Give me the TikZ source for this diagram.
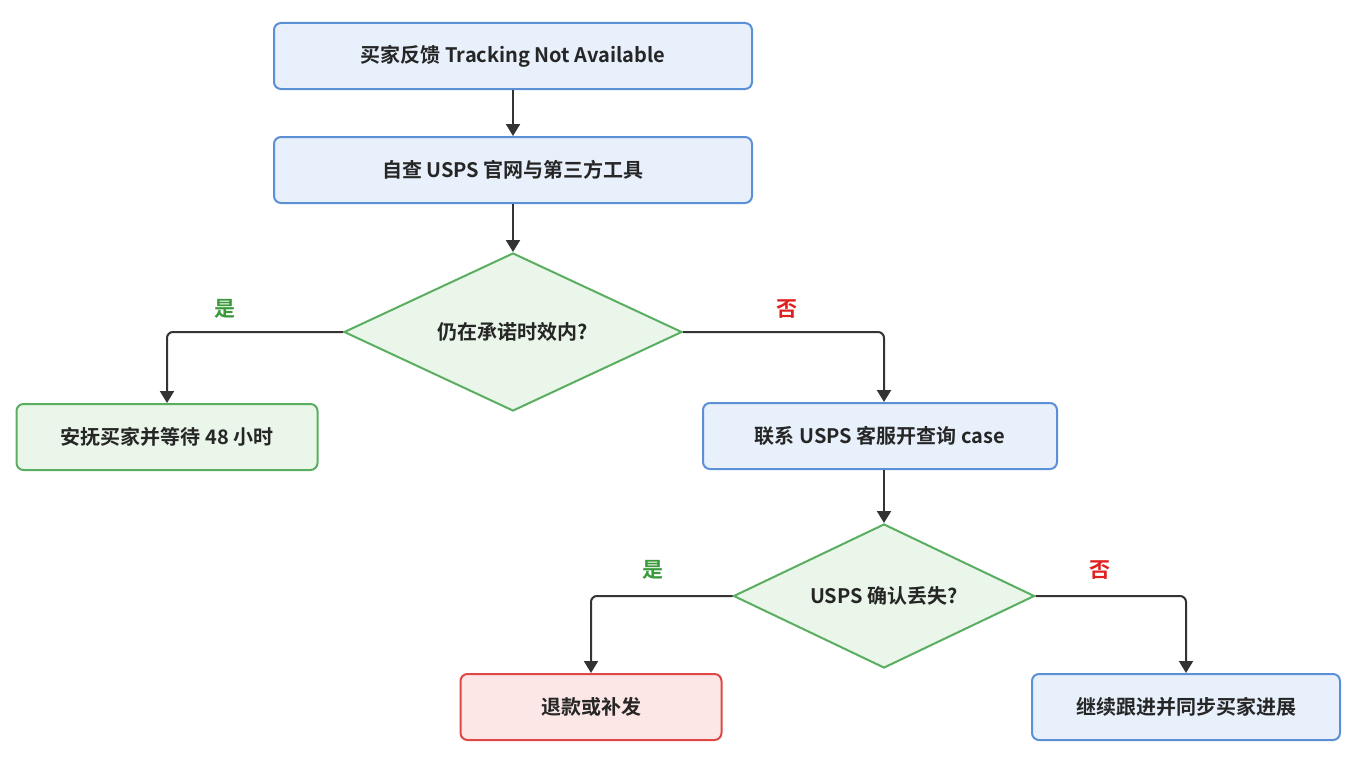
\documentclass[tikz,border=0pt]{standalone}
\usepackage{fontspec}
\setmainfont{Noto Sans CJK SC}[BoldFont={Noto Sans CJK SC Bold}]
\usetikzlibrary{shapes.geometric,arrows.meta}
\definecolor{bfill}{HTML}{E8F0FB}\definecolor{bline}{HTML}{5B8FD6}
\definecolor{gfill}{HTML}{EAF6E9}\definecolor{gline}{HTML}{5AAE61}
\definecolor{rfill}{HTML}{FCE6E6}\definecolor{rline}{HTML}{E04848}
\definecolor{ylab}{HTML}{3A9A3A}\definecolor{nlab}{HTML}{E02020}
\begin{document}
\begin{tikzpicture}[x=1pt,y=-1pt,
 box/.style={draw,line width=2pt,rounded corners=7pt,inner sep=0pt,font=\fontsize{20}{24}\selectfont\bfseries,text=black!85},
 blue/.style={box,fill=bfill,draw=bline},
 green/.style={box,fill=gfill,draw=gline},
 red/.style={box,fill=rfill,draw=rline},
 dia/.style={diamond,draw=gline,fill=gfill,line width=2pt,inner sep=0pt,font=\fontsize{20}{24}\selectfont\bfseries,text=black!85},
 arr/.style={draw=black!80,line width=2pt,-{Triangle[length=12pt,width=14pt]}},
 lab/.style={font=\fontsize{21}{24}\selectfont\bfseries}]
\useasboundingbox (0,0) rectangle (1360,768);
\node[blue,minimum width=478,minimum height=66] (n1) at (513,56) {买家反馈 Tracking Not Available};
\node[blue,minimum width=478,minimum height=66] (n2) at (513,170) {自查 USPS 官网与第三方工具};
\node[dia,minimum width=338,minimum height=158,aspect=2.14] (d1) at (513,332) {仍在承诺时效内?};
\node[green,minimum width=301,minimum height=66] (n3) at (167,437) {安抚买家并等待 48 小时};
\node[blue,minimum width=354,minimum height=66] (n4) at (880,436) {联系 USPS 客服开查询 case};
\node[dia,minimum width=301,minimum height=144,aspect=2.09] (d2) at (884,596) {USPS 确认丢失?};
\node[red,minimum width=261,minimum height=66] (n5) at (591,707) {退款或补发};
\node[blue,minimum width=308,minimum height=66] (n6) at (1186,707) {继续跟进并同步买家进展};
\draw[arr] (n1) -- (n2);
\draw[arr] (n2) -- (d1);
\draw[arr,rounded corners=6pt] (d1.west) -| (n3.north);
\draw[arr,rounded corners=6pt] (d1.east) -| ([xshift=4pt]n4.north);
\draw[arr] ([xshift=4pt]n4.south) -- (d2.north);
\draw[arr,rounded corners=6pt] (d2.west) -| (n5.north);
\draw[arr,rounded corners=6pt] (d2.east) -| (n6.north);
\node[lab,text=ylab] (y1) at (225,309) {是};
\node[lab,text=nlab] (m1) at (787,309) {否};
\node[lab,text=ylab] (y2) at (653,570) {是};
\node[lab,text=nlab] (m2) at (1100,570) {否};
\end{tikzpicture}
\end{document}
